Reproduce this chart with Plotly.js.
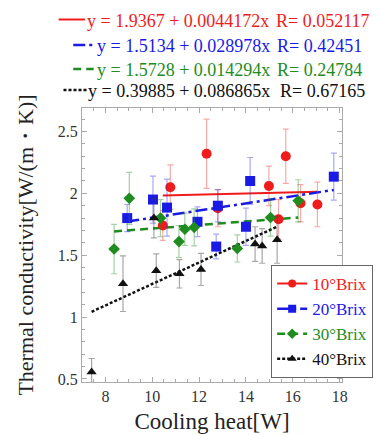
<!DOCTYPE html>
<html>
<head>
<meta charset="utf-8">
<script src="https://cdn.plot.ly/plotly-3.0.1.min.js"></script>
<style>html,body{margin:0;padding:0;background:#fff;}#chart{width:385px;height:436px;}</style>
</head>
<body>
<div id="chart"></div>
<script>
// ---- data ----
var seriesNames = ['10°Brix', '20°Brix', '30°Brix', '40°Brix'];

var x10 = [10.45, 10.77, 12.32, 12.8, 14.98, 15.39, 15.7, 16.33, 17.05];
var y10 = [1.74, 2.05, 2.32, 1.88, 2.06, 1.79, 2.30, 1.92, 1.91];
var e10 = [0.12, 0.18, 0.28, 0.15, 0.16, 0.16, 0.22, 0.15, 0.18];

var x20 = [8.93, 10.03, 10.63, 11.93, 12.73, 12.8, 14.0, 14.18, 17.75];
var y20 = [1.80, 1.95, 1.885, 1.77, 1.57, 1.90, 1.73, 2.10, 2.135];
var e20 = [0.11, 0.19, 0.23, 0.12, 0.10, 0.13, 0.15, 0.19, 0.19];

var x30 = [8.37, 9.02, 10.35, 11.14, 11.39, 11.79, 13.63, 15.05, 16.23];
var y30 = [1.55, 1.96, 1.80, 1.61, 1.71, 1.725, 1.555, 1.805, 1.94];
var e30 = [0.20, 0.21, 0.15, 0.13, 0.13, 0.15, 0.11, 0.15, 0.17];

var x40 = [7.41, 8.75, 10.07, 10.17, 11.16, 12.08, 14.39, 14.69, 15.33];
var y40 = [0.555, 1.27, 1.80, 1.375, 1.35, 1.385, 1.59, 1.575, 1.625];
var e40 = [0.11, 0.225, 0.16, 0.135, 0.115, 0.13, 0.14, 0.14, 0.19];

// regression coefficients as printed on the chart
var intercepts = [1.9367, 1.5134, 1.5728, 0.39885];
var slopes = [0.0044172, 0.028978, 0.014294, 0.086865];
var eqLabels = ['y = 1.9367 + 0.0044172x', 'y = 1.5134 + 0.028978x', 'y = 1.5728 + 0.014294x', 'y = 0.39885 + 0.086865x'];
var rLabels = ['R= 0.052117', 'R= 0.42451', 'R= 0.24784', 'R= 0.67165'];

var xTicks = [8, 10, 12, 14, 16, 18];
var yTicks = [0.5, 1, 1.5, 2, 2.5];

// ---- styles ----
var colors = ['#f01c1c', '#1a1ae6', '#1e8c1e', '#111111'];
var errColors = ['rgba(240,40,40,0.4)', 'rgba(40,40,230,0.4)', 'rgba(30,140,30,0.4)', 'rgba(60,60,60,0.45)'];
var symbols = ['circle', 'square', 'diamond', 'triangle-up'];
var sizes = [10, 10, 9, 9];
var dashes = ['solid', '12px,4px,3px,4px', '8px,5px', '3px,2px'];
var widths = [2, 2.5, 2.5, 2.5];
var SERIF = 'Liberation Serif';

var M = {l: 82, r: 36, t: 108, b: 54};
var W = 385, H = 436;
var pw = W - M.l - M.r, ph = H - M.t - M.b;
function px(p) { return (p - M.l) / pw; }
function py(p) { return (H - M.b - p) / ph; }

var xs = [x10, x20, x30, x40], ys = [y10, y20, y30, y40], es = [e10, e20, e30, e40];
var traces = [];
// fit lines (also provide the legend entries)
for (var i = 0; i < 4; i++) {
  var xmin = Math.min.apply(null, xs[i]), xmax = Math.max.apply(null, xs[i]);
  traces.push({
    x: [xmin, xmax],
    y: [intercepts[i] + slopes[i] * xmin, intercepts[i] + slopes[i] * xmax],
    type: 'scatter', mode: 'lines+markers',
    name: '<span style="color:' + colors[i] + '">' + seriesNames[i] + '</span>',
    line: {color: colors[i], width: widths[i], dash: dashes[i]},
    marker: {color: colors[i], symbol: symbols[i], size: 8},
    selectedpoints: [],
    unselected: {marker: {opacity: 0}},
    hoverinfo: 'skip'
  });
}
// data points
for (var j = 0; j < 4; j++) {
  traces.push({
    x: xs[j], y: ys[j],
    type: 'scatter', mode: 'markers',
    showlegend: false,
    marker: {color: colors[j], symbol: symbols[j], size: sizes[j]},
    error_y: {type: 'data', array: es[j], visible: true, color: errColors[j], thickness: 1.2, width: 3}
  });
}

var annotations = [], shapes = [];
var rowY = [20.5, 46, 70, 91];
var sampleX = [[58, 85], [73, 94], [73, 94], [63, 87]];
var eqLeft = [87, 97, 97, 88];
var rLeft = [281, 282, 282, 285];
for (var k = 0; k < 4; k++) {
  annotations.push({
    xref: 'paper', yref: 'paper', x: px(eqLeft[k]), y: py(rowY[k]),
    xanchor: 'left', yanchor: 'middle', showarrow: false, borderpad: 0, borderwidth: 0,
    text: eqLabels[k], font: {family: SERIF, size: 18, color: colors[k]}
  });
  annotations.push({
    xref: 'paper', yref: 'paper', x: px(rLeft[k]), y: py(rowY[k]),
    xanchor: 'left', yanchor: 'middle', showarrow: false, borderpad: 0, borderwidth: 0,
    text: rLabels[k], font: {family: SERIF, size: 18, color: colors[k]}
  });
  shapes.push({
    type: 'line', xref: 'paper', yref: 'paper',
    x0: px(sampleX[k][0]), x1: px(sampleX[k][1]), y0: py(rowY[k] - 1), y1: py(rowY[k] - 1),
    line: {color: colors[k], width: widths[k], dash: dashes[k]}
  });
}

var axisCommon = {
  showline: true, linecolor: '#aaaaaa', linewidth: 1, mirror: 'ticks',
  ticks: 'inside', ticklen: 5, tickcolor: '#aaaaaa', tickwidth: 1,
  showgrid: false, zeroline: false,
  tickfont: {family: SERIF, size: 16, color: '#333333'}
};

var layout = {
  width: W, height: H,
  margin: M,
  paper_bgcolor: '#ffffff', plot_bgcolor: '#ffffff',
  showlegend: true,
  legend: {
    x: px(381), y: py(378), xanchor: 'right', yanchor: 'bottom',
    bgcolor: '#ffffff', bordercolor: '#666666', borderwidth: 1,
    font: {family: SERIF, size: 17},
    traceorder: 'normal', itemwidth: 30
  },
  xaxis: Object.assign({}, axisCommon, {
    range: [7, 18.1], tickvals: xTicks, ticktext: xTicks.map(String),
    minor: {dtick: 0.5, ticks: 'inside', ticklen: 3, tickcolor: '#aaaaaa', showgrid: false},
    title: {text: 'Cooling heat[W]', font: {family: SERIF, size: 23, color: '#222222'}, standoff: 8}
  }),
  yaxis: Object.assign({}, axisCommon, {
    range: [0.475, 2.69], tickvals: yTicks, ticktext: yTicks.map(String),
    minor: {dtick: 0.1, ticks: 'inside', ticklen: 3, tickcolor: '#aaaaaa', showgrid: false},
    title: {text: 'Thermal conductivity[W/(m・K)]', font: {family: SERIF, size: 22, color: '#222222'}, standoff: 18}
  }),
  annotations: annotations,
  shapes: shapes
};

Plotly.newPlot('chart', traces, layout, {displayModeBar: false, staticPlot: true});
</script>
</body>
</html>
